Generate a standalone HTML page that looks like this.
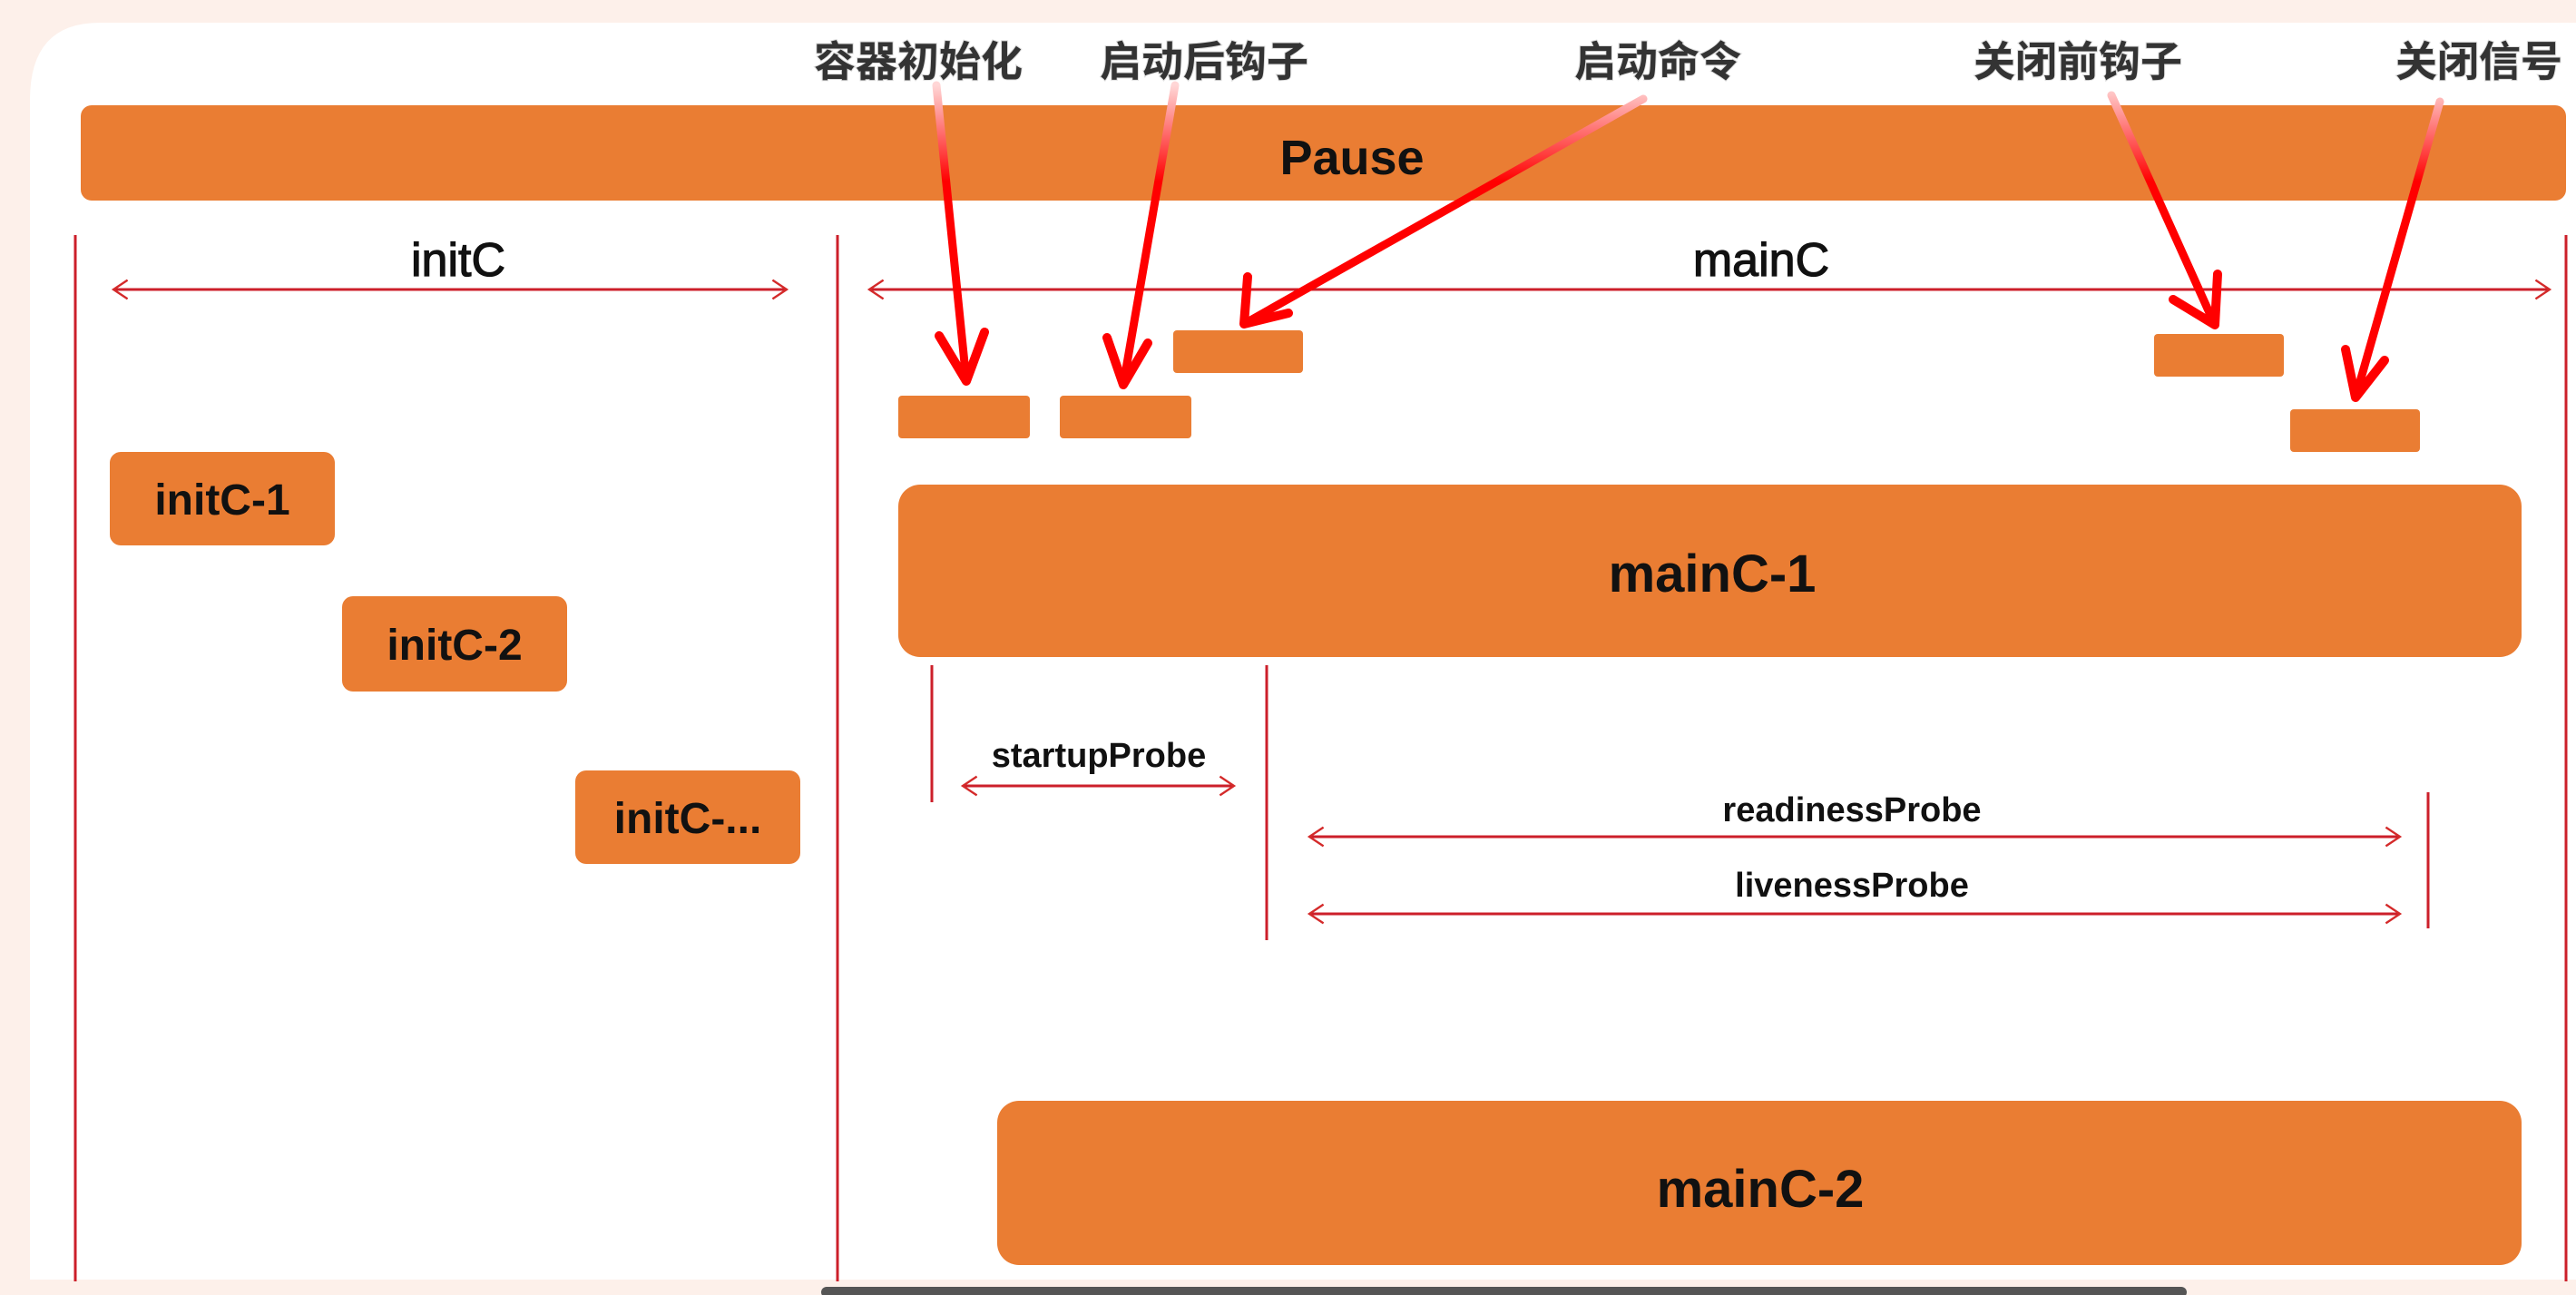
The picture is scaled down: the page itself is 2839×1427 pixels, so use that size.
<!DOCTYPE html>
<html><head><meta charset="utf-8"><style>
html,body{margin:0;padding:0;background:#fdf0ea;}
svg{display:block}
</style></head><body>
<svg width="2839" height="1427" viewBox="0 0 2839 1427" xmlns="http://www.w3.org/2000/svg">
<defs>
<linearGradient id="g1" gradientUnits="userSpaceOnUse" x1="0" y1="94" x2="0" y2="200"><stop offset="0" stop-color="#ffd6d6"/><stop offset="1" stop-color="#ff0000"/></linearGradient>
<marker id="ah" viewBox="0 0 10 10" refX="9" refY="5" markerWidth="26" markerHeight="26" orient="auto-start-reverse" markerUnits="userSpaceOnUse"><path d="M3,1 L9,5 L3,9" fill="none" stroke="#d42a2a" stroke-width="0.9"/></marker>
</defs>
<rect x="0" y="0" width="2839" height="1427" fill="#fdf0ea"/>
<path d="M33,25 H2839 V1410 H33 Z" fill="#fff"/>
<path d="M33,25 H110 Q33,25 33,110 Z" fill="#fdf0ea"/>
<rect x="905" y="1418" width="1505" height="12" rx="6" fill="#555"/>
<g font-family="Liberation Sans, 'Noto Sans CJK SC', sans-serif" font-weight="bold" fill="#111" text-anchor="middle">
<rect x="89" y="116" width="2739" height="105" rx="12" fill="#ea7d33"/>
<text x="1490" y="192" font-size="54">Pause</text>
<g stroke="#cc1f2a" stroke-width="3">
<line x1="83" y1="259" x2="83" y2="1412"/>
<line x1="923" y1="259" x2="923" y2="1412"/>
<line x1="2828" y1="259" x2="2828" y2="1412"/>
<line x1="125" y1="319" x2="867" y2="319" marker-start="url(#ah)" marker-end="url(#ah)"/>
<line x1="958" y1="319" x2="2810" y2="319" marker-start="url(#ah)" marker-end="url(#ah)"/>
<line x1="1027" y1="733" x2="1027" y2="884"/>
<line x1="1396" y1="733" x2="1396" y2="1036"/>
<line x1="2676" y1="873" x2="2676" y2="1023"/>
<line x1="1061" y1="866" x2="1360" y2="866" marker-start="url(#ah)" marker-end="url(#ah)"/>
<line x1="1443" y1="922" x2="2645" y2="922" marker-start="url(#ah)" marker-end="url(#ah)"/>
<line x1="1443" y1="1007" x2="2645" y2="1007" marker-start="url(#ah)" marker-end="url(#ah)"/>
</g>
<text x="505" y="304" font-size="52" font-weight="normal" stroke="#111" stroke-width="1.2">initC</text>
<text x="1941" y="304" font-size="52" font-weight="normal" stroke="#111" stroke-width="1.2">mainC</text>
<g fill="#ea7d33">
<rect x="990" y="436" width="145" height="47" rx="4"/>
<rect x="1168" y="436" width="145" height="47" rx="4"/>
<rect x="1293" y="364" width="143" height="47" rx="4"/>
<rect x="2374" y="368" width="143" height="47" rx="4"/>
<rect x="2524" y="451" width="143" height="47" rx="4"/>
<rect x="121" y="498" width="248" height="103" rx="12"/>
<rect x="377" y="657" width="248" height="105" rx="12"/>
<rect x="634" y="849" width="248" height="103" rx="12"/>
<rect x="990" y="534" width="1789" height="190" rx="24"/>
<rect x="1099" y="1213" width="1680" height="181" rx="24"/>
</g>
<text x="245" y="567" font-size="48">initC-1</text>
<text x="501" y="727" font-size="48">initC-2</text>
<text x="758" y="918" font-size="48">initC-...</text>
<text x="1887" y="652" font-size="58">mainC-1</text>
<text x="1940" y="1330" font-size="58">mainC-2</text>
<text x="1211" y="845" font-size="38">startupProbe</text>
<text x="2041" y="905" font-size="38">readinessProbe</text>
<text x="2041" y="988" font-size="38">livenessProbe</text>
<g font-size="46" fill="#333" style="paint-order:stroke" stroke="#ddd" stroke-width="2">
<text x="1012" y="84">容器初始化</text>
<text x="1327" y="84">启动后钩子</text>
<text x="1827" y="84">启动命令</text>
<text x="2290" y="84">关闭前钩子</text>
<text x="2640" y="84" text-anchor="start">关闭信号</text>
</g>
</g>
<g stroke="url(#g1)" stroke-width="9" fill="none" stroke-linecap="round" stroke-linejoin="round">
<line x1="1032" y1="94" x2="1065" y2="420"/>
<line x1="1295" y1="94" x2="1238" y2="424"/>
<line x1="1811" y1="109" x2="1371" y2="357"/>
<line x1="2327" y1="105" x2="2441" y2="358"/>
<line x1="2689" y1="112" x2="2596" y2="438"/>
</g>
<g stroke="#ff0000" stroke-width="10" fill="none" stroke-linecap="round" stroke-linejoin="round">
<path d="M1035,370 L1065,420 L1085,366"/>
<path d="M1220,372 L1238,424 L1265,378"/>
<path d="M1375,305 L1371,357 L1420,345"/>
<path d="M2395,330 L2441,358 L2444,302"/>
<path d="M2585,385 L2596,438 L2628,397"/>
</g>
</svg>
</body></html>
